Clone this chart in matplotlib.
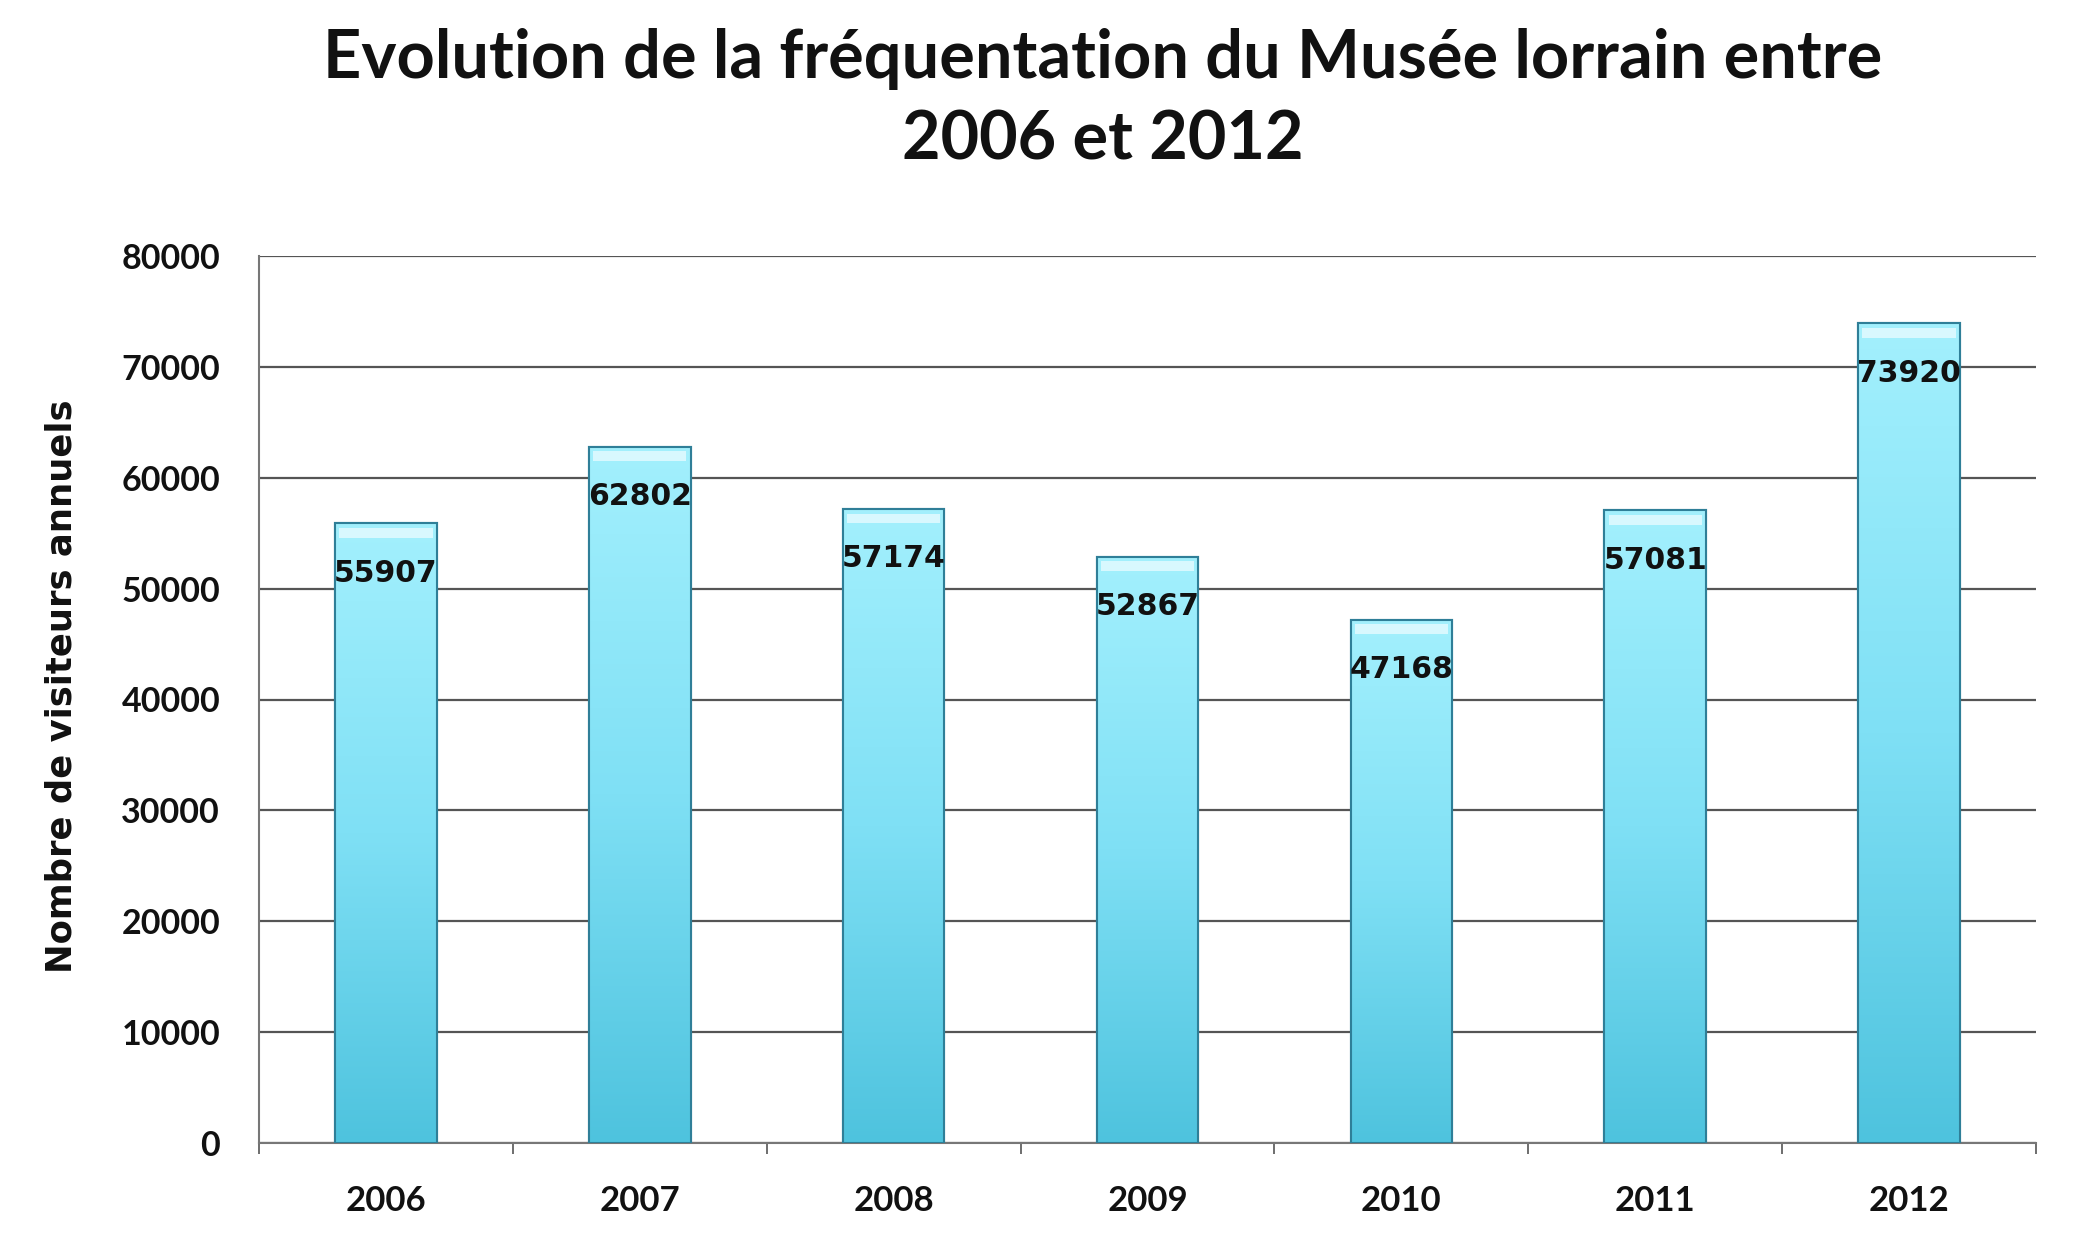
import numpy as np
import matplotlib
matplotlib.use("Agg")
import matplotlib.pyplot as plt
from matplotlib.colors import LinearSegmentedColormap

years = ["2006", "2007", "2008", "2009", "2010", "2011", "2012"]
visitors = [55907, 62802, 57174, 52867, 47168, 57081, 73920]
yticks = [0, 10000, 20000, 30000, 40000, 50000, 60000, 70000, 80000]

title = "Evolution de la fréquentation du Musée lorrain entre\n2006 et 2012"
ylabel = "Nombre de visiteurs annuels"

fig = plt.figure(figsize=(20.8, 12.36), dpi=100)
L, R, T, B = 259, 2036, 256, 1143
ax = fig.add_axes([L/2080, 1-B/1236, (R-L)/2080, (B-T)/1236])

x = np.arange(len(years))
bars = ax.bar(x, visitors, width=0.4, color="#8ee6f7", edgecolor="#2f7f98",
              linewidth=1.5, zorder=3)

cmap = LinearSegmentedColormap.from_list("g", ["#4ec3de", "#7fe0f5", "#a3f0fd"])
grad = np.linspace(0, 1, 256).reshape(-1, 1)
for b in bars:
    x0, w, h = b.get_x(), b.get_width(), b.get_height()
    im = ax.imshow(grad, cmap=cmap, aspect="auto", origin="lower",
                   extent=[x0, x0 + w, 0, h], zorder=3.5)
    im.set_clip_path(b)
    # top highlight
    ax.bar(x0 + w/2, 900, bottom=h - 1300, width=w*0.92, color="#e6fbff",
           alpha=0.8, zorder=3.6, linewidth=0)
    ax.bar(x0 + w/2, h, width=w, fill=False, edgecolor="#2f7f98",
           linewidth=1.5, zorder=3.8)
    ax.text(x0 + w/2, h - 4500, f"{h:.0f}", ha="center", va="center",
            fontsize=21.5, fontweight="bold", family="DejaVu Sans",
            color="#111111", zorder=5)

ax.set_xlim(-0.5, len(years) - 0.5)
ax.set_ylim(0, 80000)
ax.set_yticks(yticks)
ax.set_yticklabels([str(v) for v in yticks], fontsize=24.5, fontweight="bold",
                   family="Lato", color="#111111")
ax.set_xticks(x)
ax.set_xticklabels(years, fontsize=25, fontweight="bold", family="Lato",
                   color="#111111")
ax.tick_params(axis="x", length=0, pad=30)
ax.tick_params(axis="y", length=0, pad=28)
ax.set_xticks(np.arange(-0.5, len(years)), minor=True)
ax.tick_params(axis="x", which="minor", length=8, width=1.2, color="#555555",
               direction="out")
ax.yaxis.grid(True, color="#555555", linewidth=1.6, zorder=0)
ax.set_axisbelow(True)
for s in ["top", "right"]:
    ax.spines[s].set_visible(False)
ax.spines["left"].set_color("#777777")
ax.spines["bottom"].set_color("#777777")
ax.spines["left"].set_linewidth(1.5)
ax.spines["bottom"].set_linewidth(1.5)

ax.set_ylabel(ylabel, fontsize=25.5, fontweight="bold", family="DejaVu Sans",
              color="#111111", labelpad=31)
ax.yaxis.label.set_y(0.515)

fig.text(0.530, 1 - 100/1236, title, ha="center", va="center", fontsize=48,
         fontweight="bold", family="Lato", color="#111111", linespacing=1.38)

fig.savefig("out.png", dpi=100)
